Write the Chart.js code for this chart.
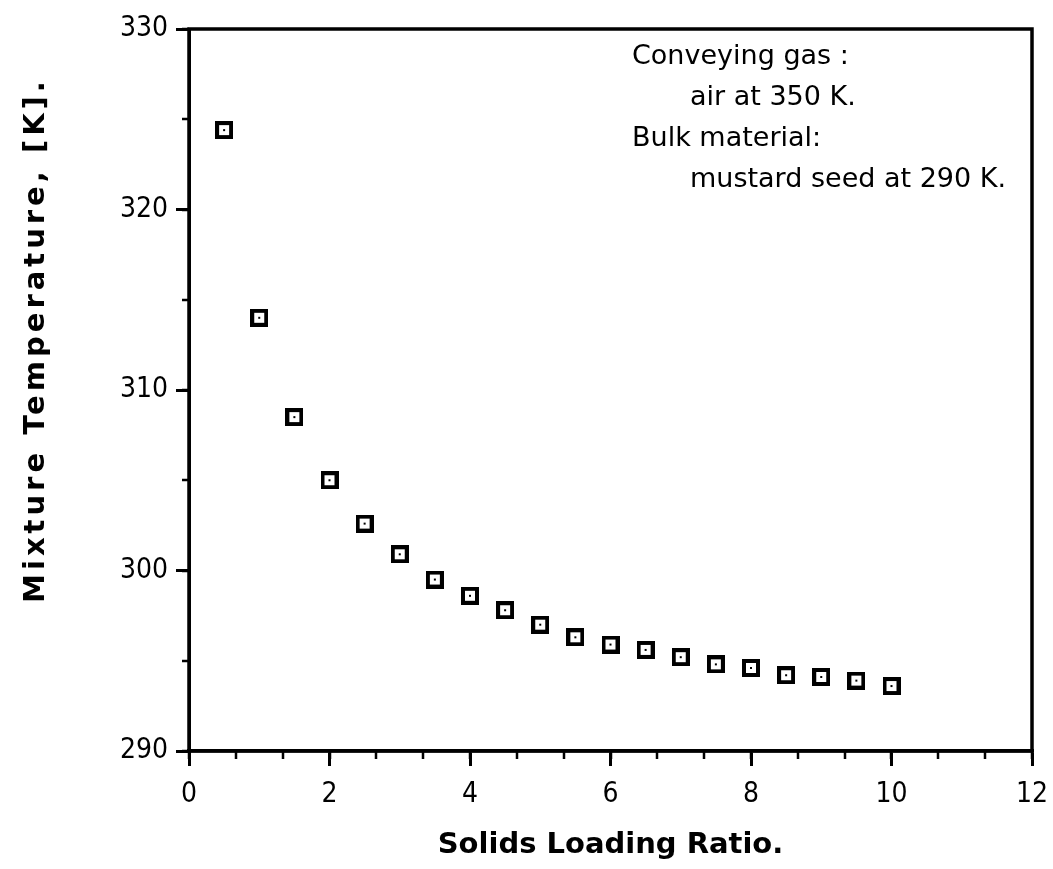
<!DOCTYPE html>
<html>
<head>
<meta charset="utf-8">
<script src="https://cdn.jsdelivr.net/npm/chart.js@4.4.1/dist/chart.umd.min.js"></script>
<style>
  html, body { margin: 0; background: #fff; }
  canvas { display: block; }
</style>
</head>
<body>
<canvas id="chart" width="1053" height="869"></canvas>
<script>
// solids loading ratio vs. mixture temperature
const loadingRatio = [0.5, 1, 1.5, 2, 2.5, 3, 3.5, 4, 4.5, 5, 5.5, 6, 6.5, 7, 7.5, 8, 8.5, 9, 9.5, 10];
const mixtureTemp = [324.4, 314.0, 308.5, 305.0, 302.6, 300.9, 299.5, 298.6, 297.8, 297.0,
                     296.3, 295.9, 295.6, 295.2, 294.8, 294.6, 294.2, 294.1, 293.9, 293.6];

const xTickLabels = ['0', '2', '4', '6', '8', '10', '12'];
const yTickLabels = ['290', '300', '310', '320', '330'];
const xMinorStep = 2 / 3;
const yMinorStep = 5;

const xTitle = 'Solids Loading Ratio.';
const yTitle = 'Mixture Temperature, [K].';
const noteLines = ['Conveying gas :', 'air at 350 K.', 'Bulk material:', 'mustard seed at 290 K.'];

const tickFont = "'Liberation Sans Narrow', 'DejaVu Sans Condensed', 'DejaVu Sans', sans-serif";
const noteFont = "'DejaVu Sans', sans-serif";
const boldFont = "'DejaVu Sans', sans-serif";

// hollow square marker with a dot in the middle
function makeMarker() {
  const c = document.createElement('canvas');
  c.width = 18; c.height = 18;
  const g = c.getContext('2d');
  g.fillStyle = '#000';
  g.fillRect(0, 0, 18, 18);
  g.fillStyle = '#fff';
  g.fillRect(4, 4, 10, 10);
  g.fillStyle = '#000';
  g.fillRect(8, 8, 2, 2);
  return c;
}

// frame, minor ticks, y title and the note in the corner
const decor = {
  id: 'decor',
  afterDraw(chart) {
    const { ctx, chartArea: a, scales: { x, y } } = chart;
    ctx.save();
    ctx.strokeStyle = '#000';
    ctx.lineWidth = 3.5;
    ctx.strokeRect(a.left, a.top, a.right - a.left, a.bottom - a.top);

    ctx.lineWidth = 2.5;
    ctx.beginPath();
    for (let v = x.min; v <= x.max + 1e-6; v += xMinorStep) {
      const px = Math.round(x.getPixelForValue(v));
      ctx.moveTo(px, a.bottom);
      ctx.lineTo(px, a.bottom + 8);
    }
    for (let v = y.min; v <= y.max; v += yMinorStep) {
      const py = Math.round(y.getPixelForValue(v));
      ctx.moveTo(a.left, py);
      ctx.lineTo(a.left - 7, py);
    }
    ctx.stroke();

    ctx.fillStyle = '#000';
    ctx.font = "bold 29px " + boldFont;
    ctx.letterSpacing = '4px';
    ctx.textAlign = 'center';
    ctx.textBaseline = 'middle';
    ctx.translate(36, 340);
    ctx.rotate(-Math.PI / 2);
    ctx.fillText(yTitle, 0, 0);
    ctx.restore();

    ctx.save();
    ctx.fillStyle = '#000';
    ctx.font = "27px " + noteFont;
    ctx.textBaseline = 'middle';
    const indent = [0, 58, 0, 58];
    noteLines.forEach((t, i) => ctx.fillText(t, 632 + indent[i], 57 + i * 41));
    ctx.restore();
  }
};

new Chart(document.getElementById('chart'), {
  type: 'scatter',
  data: {
    datasets: [{
      data: loadingRatio.map((v, i) => ({ x: v, y: mixtureTemp[i] })),
      pointStyle: makeMarker(),
      pointRadius: 9,
      pointHoverRadius: 9
    }]
  },
  options: {
    responsive: false,
    animation: false,
    events: [],
    layout: { padding: { top: 29, right: 21, left: 0, bottom: 0 } },
    plugins: { legend: { display: false }, tooltip: { enabled: false } },
    scales: {
      x: {
        type: 'linear',
        min: 0,
        max: 12,
        afterBuildTicks: s => { s.ticks = xTickLabels.map(v => ({ value: +v })); },
        afterFit: s => { s.height = 118; s.paddingRight = 0; s.paddingLeft = 0; },
        ticks: { color: '#000', font: { family: tickFont, size: 28 }, padding: 12, maxRotation: 0 },
        grid: { drawOnChartArea: false, color: '#000', lineWidth: 3, tickLength: 15 },
        border: { color: '#000', width: 3.5 },
        title: {
          display: true,
          text: xTitle,
          color: '#000',
          font: { family: boldFont, size: 29, weight: 'bold' },
          padding: { top: 0, bottom: 6 }
        }
      },
      y: {
        type: 'linear',
        min: 290,
        max: 330,
        afterBuildTicks: s => { s.ticks = yTickLabels.map(v => ({ value: +v })); },
        afterFit: s => { s.width = 189; s.paddingTop = 0; s.paddingBottom = 0; },
        ticks: { color: '#000', font: { family: tickFont, size: 28 }, padding: 8 },
        grid: { drawOnChartArea: false, color: '#000', lineWidth: 3, tickLength: 13 },
        border: { color: '#000', width: 3 }
      }
    }
  },
  plugins: [decor]
});
</script>
</body>
</html>
